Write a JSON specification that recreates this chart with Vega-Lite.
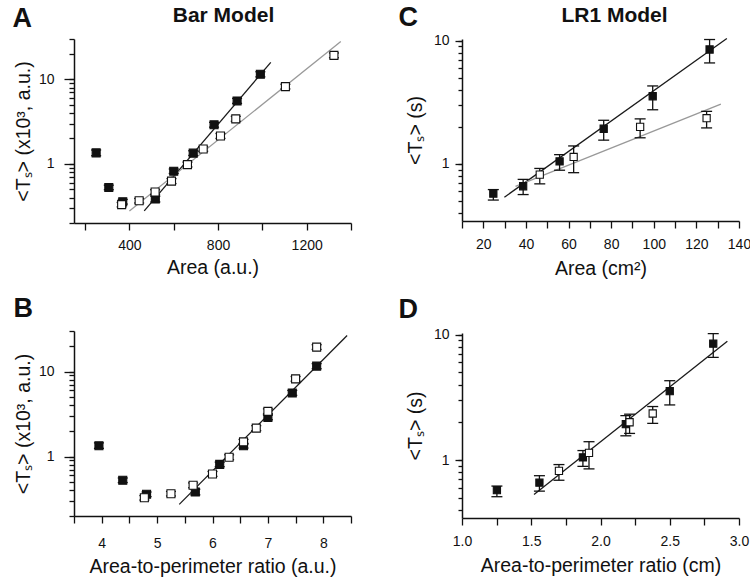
{
  "$schema": "https://vega.github.io/schema/vega-lite/v6.json",
  "padding": {"left": 12, "top": 3, "right": 5, "bottom": 5},
  "config": {
    "font": "Liberation Sans",
    "view": {"stroke": null},
    "axis": {
      "grid": false,
      "labelFont": "Liberation Sans",
      "titleFont": "Liberation Sans",
      "labelFontSize": 14,
      "titleFontSize": 19.5,
      "titleFontWeight": "normal",
      "labelColor": "#111111",
      "titleColor": "#111111",
      "domainColor": "#111111",
      "tickColor": "#111111",
      "domainWidth": 1.5,
      "tickWidth": 1.3,
      "labelFlush": false,
      "labelOverlap": false
    }
  },
  "datasets": {
    "ptsA": [
      {"x": 250, "y": 1.35, "lo": 1.25, "hi": 1.46, "type": "filled"},
      {"x": 307, "y": 0.526, "lo": 0.495, "hi": 0.56, "type": "filled"},
      {"x": 370, "y": 0.357, "lo": 0.335, "hi": 0.38, "type": "filled"},
      {"x": 517, "y": 0.384, "lo": 0.355, "hi": 0.415, "type": "filled"},
      {"x": 600, "y": 0.82, "lo": 0.77, "hi": 0.87, "type": "filled"},
      {"x": 688, "y": 1.34, "lo": 1.26, "hi": 1.43, "type": "filled"},
      {"x": 782, "y": 2.9, "lo": 2.72, "hi": 3.1, "type": "filled"},
      {"x": 886, "y": 5.55, "lo": 5.2, "hi": 5.95, "type": "filled"},
      {"x": 991, "y": 11.5, "lo": 10.7, "hi": 12.3, "type": "filled"},
      {"x": 365, "y": 0.33, "lo": 0.31, "hi": 0.35, "type": "open"},
      {"x": 444, "y": 0.367, "lo": 0.345, "hi": 0.39, "type": "open"},
      {"x": 516, "y": 0.465, "lo": 0.435, "hi": 0.495, "type": "open"},
      {"x": 590, "y": 0.626, "lo": 0.585, "hi": 0.67, "type": "open"},
      {"x": 662, "y": 0.98, "lo": 0.92, "hi": 1.05, "type": "open"},
      {"x": 733, "y": 1.5, "lo": 1.41, "hi": 1.6, "type": "open"},
      {"x": 811, "y": 2.14, "lo": 2.0, "hi": 2.29, "type": "open"},
      {"x": 880, "y": 3.41, "lo": 3.19, "hi": 3.65, "type": "open"},
      {"x": 1104, "y": 8.2, "lo": 7.7, "hi": 8.75, "type": "open"},
      {"x": 1323, "y": 19.2, "lo": 18.0, "hi": 20.5, "type": "open"}
    ],
    "ptsB": [
      {"x": 3.95, "y": 1.34, "lo": 1.25, "hi": 1.45, "type": "filled"},
      {"x": 4.38, "y": 0.526, "lo": 0.495, "hi": 0.56, "type": "filled"},
      {"x": 4.81, "y": 0.36, "lo": 0.338, "hi": 0.383, "type": "filled"},
      {"x": 5.69, "y": 0.383, "lo": 0.355, "hi": 0.413, "type": "filled"},
      {"x": 6.13, "y": 0.81, "lo": 0.76, "hi": 0.86, "type": "filled"},
      {"x": 6.56, "y": 1.34, "lo": 1.26, "hi": 1.43, "type": "filled"},
      {"x": 7.0, "y": 2.89, "lo": 2.71, "hi": 3.09, "type": "filled"},
      {"x": 7.44, "y": 5.6, "lo": 5.25, "hi": 6.0, "type": "filled"},
      {"x": 7.88, "y": 11.6, "lo": 10.8, "hi": 12.4, "type": "filled"},
      {"x": 4.77, "y": 0.328, "lo": 0.308, "hi": 0.348, "type": "open"},
      {"x": 5.25, "y": 0.366, "lo": 0.344, "hi": 0.389, "type": "open"},
      {"x": 5.65, "y": 0.46, "lo": 0.43, "hi": 0.49, "type": "open"},
      {"x": 6.0, "y": 0.625, "lo": 0.585, "hi": 0.668, "type": "open"},
      {"x": 6.3, "y": 0.98, "lo": 0.92, "hi": 1.05, "type": "open"},
      {"x": 6.56, "y": 1.49, "lo": 1.4, "hi": 1.59, "type": "open"},
      {"x": 6.79, "y": 2.16, "lo": 2.02, "hi": 2.31, "type": "open"},
      {"x": 7.0, "y": 3.4, "lo": 3.18, "hi": 3.64, "type": "open"},
      {"x": 7.5, "y": 8.2, "lo": 7.7, "hi": 8.75, "type": "open"},
      {"x": 7.88, "y": 19.4, "lo": 18.2, "hi": 20.7, "type": "open"}
    ],
    "ptsC": [
      {"x": 24.7, "y": 0.575, "lo": 0.51, "hi": 0.62, "type": "filled"},
      {"x": 38.7, "y": 0.66, "lo": 0.565, "hi": 0.75, "type": "filled"},
      {"x": 55.8, "y": 1.05, "lo": 0.89, "hi": 1.19, "type": "filled"},
      {"x": 76.5, "y": 1.93, "lo": 1.56, "hi": 2.26, "type": "filled"},
      {"x": 99.5, "y": 3.54, "lo": 2.75, "hi": 4.29, "type": "filled"},
      {"x": 126.2, "y": 8.47, "lo": 6.59, "hi": 10.2, "type": "filled"},
      {"x": 46.5, "y": 0.82, "lo": 0.69, "hi": 0.92, "type": "open"},
      {"x": 62.4, "y": 1.14, "lo": 0.85, "hi": 1.4, "type": "open"},
      {"x": 93.6, "y": 2.0, "lo": 1.63, "hi": 2.32, "type": "open"},
      {"x": 124.8, "y": 2.35, "lo": 1.96, "hi": 2.67, "type": "open"}
    ],
    "ptsD": [
      {"x": 1.252, "y": 0.575, "lo": 0.51, "hi": 0.62, "type": "filled"},
      {"x": 1.559, "y": 0.66, "lo": 0.565, "hi": 0.75, "type": "filled"},
      {"x": 1.873, "y": 1.05, "lo": 0.89, "hi": 1.19, "type": "filled"},
      {"x": 2.183, "y": 1.93, "lo": 1.56, "hi": 2.26, "type": "filled"},
      {"x": 2.5, "y": 3.54, "lo": 2.75, "hi": 4.29, "type": "filled"},
      {"x": 2.814, "y": 8.47, "lo": 6.59, "hi": 10.2, "type": "filled"},
      {"x": 1.7, "y": 0.82, "lo": 0.69, "hi": 0.92, "type": "open"},
      {"x": 1.917, "y": 1.14, "lo": 0.85, "hi": 1.4, "type": "open"},
      {"x": 2.21, "y": 2.0, "lo": 1.63, "hi": 2.32, "type": "open"},
      {"x": 2.377, "y": 2.35, "lo": 1.96, "hi": 2.67, "type": "open"}
    ],
    "fitA": [
      {"x": 467, "y": 0.278, "s": "f"},
      {"x": 1038, "y": 15.85, "s": "f"},
      {"x": 400, "y": 0.278, "s": "o"},
      {"x": 1354, "y": 28, "s": "o"}
    ],
    "fitB": [
      {"x": 5.4, "y": 0.274, "s": "f"},
      {"x": 8.43, "y": 26.6, "s": "f"}
    ],
    "fitC": [
      {"x": 29.9, "y": 0.538, "s": "f"},
      {"x": 134.3, "y": 10.4, "s": "f"},
      {"x": 35.1, "y": 0.659, "s": "o"},
      {"x": 131.5, "y": 3.06, "s": "o"}
    ],
    "fitD": [
      {"x": 1.52, "y": 0.53, "s": "f"},
      {"x": 2.916, "y": 8.85, "s": "f"}
    ]
  },
  "spacing": 46,
  "hconcat": [
    {
      "spacing": 17,
      "vconcat": [
        {
          "width": 277, "height": 184,
          "resolve": {"axis": {"x": "independent", "y": "independent"}},
          "layer": [
            {
              "data": {"name": "fitA"},
              "mark": {"type": "line", "strokeWidth": 1.3},
              "encoding": {
                "x": {"field": "x", "type": "quantitative", "scale": {"type": "linear", "domain": [150, 1400], "nice": false, "zero": false}, "axis": null},
                "y": {"field": "y", "type": "quantitative", "scale": {"type": "log", "domain": [0.2, 30], "nice": false}, "axis": null},
                "stroke": {"field": "s", "type": "nominal", "scale": {"domain": ["f", "o"], "range": ["#1a1a1a", "#999999"]}, "legend": null}
              }
            },
            {
              "data": {"name": "ptsA"},
              "mark": {"type": "rule", "strokeWidth": 1.3, "color": "#111111"},
              "encoding": {
                "x": {"field": "x", "type": "quantitative", "scale": {"type": "linear", "domain": [150, 1400], "nice": false, "zero": false},
                  "axis": {"orient": "top", "labels": false, "ticks": false, "domain": false, "title": "Bar Model", "titleFontSize": 21, "titleFontWeight": "bold", "titleX": 149, "titleY": -18, "titleBaseline": "alphabetic", "titleAlign": "center"}},
                "y": {"field": "lo", "type": "quantitative", "scale": {"type": "log", "domain": [0.2, 30], "nice": false},
                  "axis": {"orient": "left", "values": [0.2, 0.3, 0.4, 0.5, 0.6, 0.7, 0.8, 0.9, 1, 2, 3, 4, 5, 6, 7, 8, 9, 10, 20, 30], "tickSize": 5, "labels": false, "domain": false, "title": null}},
                "y2": {"field": "hi"}
              }
            },
            {
              "data": {"name": "ptsA"},
              "mark": {"type": "tick", "orient": "horizontal", "size": 10, "thickness": 1.3, "color": "#111111", "opacity": 1},
              "encoding": {
                "x": {"field": "x", "type": "quantitative", "scale": {"type": "linear", "domain": [150, 1400], "nice": false, "zero": false},
                  "axis": {"orient": "top", "labels": false, "ticks": false, "domain": false, "title": "A", "titleFontSize": 27, "titleFontWeight": "bold", "titleX": -62, "titleY": -13, "titleBaseline": "alphabetic", "titleAlign": "left", "titleAnchor": "start"}},
                "y": {"field": "lo", "type": "quantitative", "scale": {"type": "log", "domain": [0.2, 30], "nice": false}, "axis": null}
              }
            },
            {
              "data": {"name": "ptsA"},
              "mark": {"type": "tick", "orient": "horizontal", "size": 10, "thickness": 1.3, "color": "#111111", "opacity": 1},
              "encoding": {
                "x": {"field": "x", "type": "quantitative", "scale": {"type": "linear", "domain": [150, 1400], "nice": false, "zero": false}, "axis": null},
                "y": {"field": "hi", "type": "quantitative", "scale": {"type": "log", "domain": [0.2, 30], "nice": false}, "axis": null}
              }
            },
            {
              "data": {"name": "ptsA"},
              "mark": {"type": "point", "shape": "square", "filled": true, "size": 64, "stroke": "#111111", "strokeWidth": 1.1, "opacity": 1},
              "encoding": {
                "x": {"field": "x", "type": "quantitative", "scale": {"type": "linear", "domain": [150, 1400], "nice": false, "zero": false},
                  "axis": {"orient": "bottom", "values": [200, 400, 600, 800, 1000, 1200, 1400], "labelExpr": "datum.value % 400 == 0 ? format(datum.value, 'd') : ''", "tickSize": 7, "labelPadding": 8, "title": "Area (a.u.)", "titlePadding": 6}},
                "y": {"field": "y", "type": "quantitative", "scale": {"type": "log", "domain": [0.2, 30], "nice": false},
                  "axis": {"orient": "left", "values": [1, 10], "tickSize": 10, "labelPadding": 10, "labelExpr": "format(datum.value, '~g')", "title": "<Tₛ> (x10³, a.u.)", "titlePadding": 5}},
                "fill": {"field": "type", "type": "nominal", "scale": {"domain": ["filled", "open"], "range": ["#111111", "#ffffff"]}, "legend": null}
              }
            }
          ]
        },
        {
          "width": 277, "height": 185,
          "resolve": {"axis": {"x": "independent", "y": "independent"}},
          "layer": [
            {
              "data": {"name": "fitB"},
              "mark": {"type": "line", "strokeWidth": 1.3},
              "encoding": {
                "x": {"field": "x", "type": "quantitative", "scale": {"type": "linear", "domain": [3.5, 8.5], "nice": false, "zero": false}, "axis": null},
                "y": {"field": "y", "type": "quantitative", "scale": {"type": "log", "domain": [0.2, 30], "nice": false}, "axis": null},
                "stroke": {"field": "s", "type": "nominal", "scale": {"domain": ["f", "o"], "range": ["#1a1a1a", "#999999"]}, "legend": null}
              }
            },
            {
              "data": {"name": "ptsB"},
              "mark": {"type": "rule", "strokeWidth": 1.3, "color": "#111111"},
              "encoding": {
                "x": {"field": "x", "type": "quantitative", "scale": {"type": "linear", "domain": [3.5, 8.5], "nice": false, "zero": false}, "axis": null},
                "y": {"field": "lo", "type": "quantitative", "scale": {"type": "log", "domain": [0.2, 30], "nice": false},
                  "axis": {"orient": "left", "values": [0.2, 0.3, 0.4, 0.5, 0.6, 0.7, 0.8, 0.9, 1, 2, 3, 4, 5, 6, 7, 8, 9, 10, 20, 30], "tickSize": 5, "labels": false, "domain": false, "title": null}},
                "y2": {"field": "hi"}
              }
            },
            {
              "data": {"name": "ptsB"},
              "mark": {"type": "tick", "orient": "horizontal", "size": 10, "thickness": 1.3, "color": "#111111", "opacity": 1},
              "encoding": {
                "x": {"field": "x", "type": "quantitative", "scale": {"type": "linear", "domain": [3.5, 8.5], "nice": false, "zero": false},
                  "axis": {"orient": "top", "labels": false, "ticks": false, "domain": false, "title": "B", "titleFontSize": 27, "titleFontWeight": "bold", "titleX": -61, "titleY": -15, "titleBaseline": "alphabetic", "titleAlign": "left", "titleAnchor": "start"}},
                "y": {"field": "lo", "type": "quantitative", "scale": {"type": "log", "domain": [0.2, 30], "nice": false}, "axis": null}
              }
            },
            {
              "data": {"name": "ptsB"},
              "mark": {"type": "tick", "orient": "horizontal", "size": 10, "thickness": 1.3, "color": "#111111", "opacity": 1},
              "encoding": {
                "x": {"field": "x", "type": "quantitative", "scale": {"type": "linear", "domain": [3.5, 8.5], "nice": false, "zero": false}, "axis": null},
                "y": {"field": "hi", "type": "quantitative", "scale": {"type": "log", "domain": [0.2, 30], "nice": false}, "axis": null}
              }
            },
            {
              "data": {"name": "ptsB"},
              "mark": {"type": "point", "shape": "square", "filled": true, "size": 64, "stroke": "#111111", "strokeWidth": 1.1, "opacity": 1},
              "encoding": {
                "x": {"field": "x", "type": "quantitative", "scale": {"type": "linear", "domain": [3.5, 8.5], "nice": false, "zero": false},
                  "axis": {"orient": "bottom", "values": [3.5, 4, 4.5, 5, 5.5, 6, 6.5, 7, 7.5, 8, 8.5], "labelExpr": "datum.value % 1 == 0 ? format(datum.value, 'd') : ''", "tickSize": 7, "labelPadding": 13, "title": "Area-to-perimeter ratio (a.u.)", "titlePadding": 7}},
                "y": {"field": "y", "type": "quantitative", "scale": {"type": "log", "domain": [0.2, 30], "nice": false},
                  "axis": {"orient": "left", "values": [1, 10], "tickSize": 10, "labelPadding": 10, "labelExpr": "format(datum.value, '~g')", "title": "<Tₛ> (x10³, a.u.)", "titlePadding": 5}},
                "fill": {"field": "type", "type": "nominal", "scale": {"domain": ["filled", "open"], "range": ["#111111", "#ffffff"]}, "legend": null}
              }
            }
          ]
        }
      ]
    },
    {
      "spacing": 17,
      "vconcat": [
        {
          "width": 277, "height": 182,
          "resolve": {"axis": {"x": "independent", "y": "independent"}},
          "layer": [
            {
              "data": {"name": "fitC"},
              "mark": {"type": "line", "strokeWidth": 1.3},
              "encoding": {
                "x": {"field": "x", "type": "quantitative", "scale": {"type": "linear", "domain": [10, 140], "nice": false, "zero": false}, "axis": null},
                "y": {"field": "y", "type": "quantitative", "scale": {"type": "log", "domain": [0.345, 10.3], "nice": false}, "axis": null},
                "stroke": {"field": "s", "type": "nominal", "scale": {"domain": ["f", "o"], "range": ["#1a1a1a", "#999999"]}, "legend": null}
              }
            },
            {
              "data": {"name": "ptsC"},
              "mark": {"type": "rule", "strokeWidth": 1.3, "color": "#111111"},
              "encoding": {
                "x": {"field": "x", "type": "quantitative", "scale": {"type": "linear", "domain": [10, 140], "nice": false, "zero": false},
                  "axis": {"orient": "top", "labels": false, "ticks": false, "domain": false, "title": "LR1 Model", "titleFontSize": 21, "titleFontWeight": "bold", "titleX": 152, "titleY": -18, "titleBaseline": "alphabetic", "titleAlign": "center"}},
                "y": {"field": "lo", "type": "quantitative", "scale": {"type": "log", "domain": [0.345, 10.3], "nice": false},
                  "axis": {"orient": "left", "values": [0.4, 0.5, 0.6, 0.7, 0.8, 0.9, 1, 2, 3, 4, 5, 6, 7, 8, 9, 10], "tickSize": 4, "labels": false, "domain": false, "title": null}},
                "y2": {"field": "hi"}
              }
            },
            {
              "data": {"name": "ptsC"},
              "mark": {"type": "tick", "orient": "horizontal", "size": 11, "thickness": 1.3, "color": "#111111", "opacity": 1},
              "encoding": {
                "x": {"field": "x", "type": "quantitative", "scale": {"type": "linear", "domain": [10, 140], "nice": false, "zero": false},
                  "axis": {"orient": "top", "labels": false, "ticks": false, "domain": false, "title": "C", "titleFontSize": 27, "titleFontWeight": "bold", "titleX": -64, "titleY": -14, "titleBaseline": "alphabetic", "titleAlign": "left", "titleAnchor": "start"}},
                "y": {"field": "lo", "type": "quantitative", "scale": {"type": "log", "domain": [0.345, 10.3], "nice": false}, "axis": null}
              }
            },
            {
              "data": {"name": "ptsC"},
              "mark": {"type": "tick", "orient": "horizontal", "size": 11, "thickness": 1.3, "color": "#111111", "opacity": 1},
              "encoding": {
                "x": {"field": "x", "type": "quantitative", "scale": {"type": "linear", "domain": [10, 140], "nice": false, "zero": false}, "axis": null},
                "y": {"field": "hi", "type": "quantitative", "scale": {"type": "log", "domain": [0.345, 10.3], "nice": false}, "axis": null}
              }
            },
            {
              "data": {"name": "ptsC"},
              "mark": {"type": "point", "shape": "square", "filled": true, "size": 52, "stroke": "#111111", "strokeWidth": 1.1, "opacity": 1},
              "encoding": {
                "x": {"field": "x", "type": "quantitative", "scale": {"type": "linear", "domain": [10, 140], "nice": false, "zero": false},
                  "axis": {"orient": "bottom", "values": [10, 20, 30, 40, 50, 60, 70, 80, 90, 100, 110, 120, 130, 140], "labelExpr": "datum.value % 20 == 0 ? format(datum.value, 'd') : ''", "tickSize": 7, "labelPadding": 9, "title": "Area (cm²)", "titlePadding": 8}},
                "y": {"field": "y", "type": "quantitative", "scale": {"type": "log", "domain": [0.345, 10.3], "nice": false},
                  "axis": {"orient": "left", "values": [1, 10], "tickSize": 7, "labelPadding": 6, "labelExpr": "format(datum.value, '~g')", "title": "<Tₛ> (s)", "titlePadding": 8}},
                "fill": {"field": "type", "type": "nominal", "scale": {"domain": ["filled", "open"], "range": ["#111111", "#ffffff"]}, "legend": null}
              }
            }
          ]
        },
        {
          "width": 277, "height": 185,
          "resolve": {"axis": {"x": "independent", "y": "independent"}},
          "layer": [
            {
              "data": {"name": "fitD"},
              "mark": {"type": "line", "strokeWidth": 1.3},
              "encoding": {
                "x": {"field": "x", "type": "quantitative", "scale": {"type": "linear", "domain": [1, 3], "nice": false, "zero": false}, "axis": null},
                "y": {"field": "y", "type": "quantitative", "scale": {"type": "log", "domain": [0.345, 10.3], "nice": false}, "axis": null},
                "stroke": {"field": "s", "type": "nominal", "scale": {"domain": ["f", "o"], "range": ["#1a1a1a", "#999999"]}, "legend": null}
              }
            },
            {
              "data": {"name": "ptsD"},
              "mark": {"type": "rule", "strokeWidth": 1.3, "color": "#111111"},
              "encoding": {
                "x": {"field": "x", "type": "quantitative", "scale": {"type": "linear", "domain": [1, 3], "nice": false, "zero": false}, "axis": null},
                "y": {"field": "lo", "type": "quantitative", "scale": {"type": "log", "domain": [0.345, 10.3], "nice": false},
                  "axis": {"orient": "left", "values": [0.4, 0.5, 0.6, 0.7, 0.8, 0.9, 1, 2, 3, 4, 5, 6, 7, 8, 9, 10], "tickSize": 4, "labels": false, "domain": false, "title": null}},
                "y2": {"field": "hi"}
              }
            },
            {
              "data": {"name": "ptsD"},
              "mark": {"type": "tick", "orient": "horizontal", "size": 11, "thickness": 1.3, "color": "#111111", "opacity": 1},
              "encoding": {
                "x": {"field": "x", "type": "quantitative", "scale": {"type": "linear", "domain": [1, 3], "nice": false, "zero": false},
                  "axis": {"orient": "top", "labels": false, "ticks": false, "domain": false, "title": "D", "titleFontSize": 27, "titleFontWeight": "bold", "titleX": -64, "titleY": -16, "titleBaseline": "alphabetic", "titleAlign": "left", "titleAnchor": "start"}},
                "y": {"field": "lo", "type": "quantitative", "scale": {"type": "log", "domain": [0.345, 10.3], "nice": false}, "axis": null}
              }
            },
            {
              "data": {"name": "ptsD"},
              "mark": {"type": "tick", "orient": "horizontal", "size": 11, "thickness": 1.3, "color": "#111111", "opacity": 1},
              "encoding": {
                "x": {"field": "x", "type": "quantitative", "scale": {"type": "linear", "domain": [1, 3], "nice": false, "zero": false}, "axis": null},
                "y": {"field": "hi", "type": "quantitative", "scale": {"type": "log", "domain": [0.345, 10.3], "nice": false}, "axis": null}
              }
            },
            {
              "data": {"name": "ptsD"},
              "mark": {"type": "point", "shape": "square", "filled": true, "size": 52, "stroke": "#111111", "strokeWidth": 1.1, "opacity": 1},
              "encoding": {
                "x": {"field": "x", "type": "quantitative", "scale": {"type": "linear", "domain": [1, 3], "nice": false, "zero": false},
                  "axis": {"orient": "bottom", "values": [1, 1.25, 1.5, 1.75, 2, 2.25, 2.5, 2.75, 3], "labelExpr": "datum.value % 0.5 == 0 ? format(datum.value, '.1f') : ''", "tickSize": 7, "labelPadding": 9, "title": "Area-to-perimeter ratio (cm)", "titlePadding": 8}},
                "y": {"field": "y", "type": "quantitative", "scale": {"type": "log", "domain": [0.345, 10.3], "nice": false},
                  "axis": {"orient": "left", "values": [1, 10], "tickSize": 7, "labelPadding": 6, "labelExpr": "format(datum.value, '~g')", "title": "<Tₛ> (s)", "titlePadding": 8}},
                "fill": {"field": "type", "type": "nominal", "scale": {"domain": ["filled", "open"], "range": ["#111111", "#ffffff"]}, "legend": null}
              }
            }
          ]
        }
      ]
    }
  ]
}
